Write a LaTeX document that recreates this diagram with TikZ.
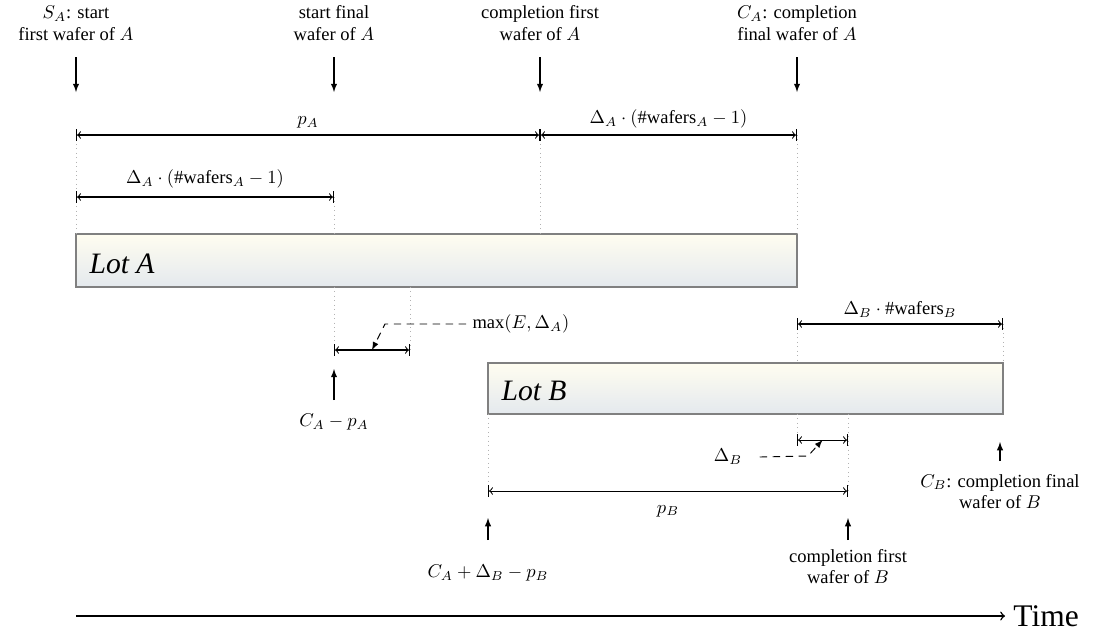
\documentclass[tikz,border=0pt]{standalone}
\usepackage{amsmath}
\usepackage{fontspec}
\setmainfont{Liberation Serif}
\usetikzlibrary{positioning}

\definecolor{lottop}{HTML}{FFFDF0}
\definecolor{lotbottom}{HTML}{E4E9EE}

\tikzset{
  lot/.style={draw=gray, line width=1.2pt, top color=lottop, bottom color=lotbottom},
  lotname/.style={font=\fontsize{16}{18}\selectfont\itshape, anchor=west},
  guide/.style={gray!60, dotted},
  span/.style={|<->|, line width=0.55pt},
  pointer/.style={-latex, line width=0.55pt},
  callout/.style={dash pattern=on 4pt off 3pt, -latex, line width=0.5pt},
}

\begin{document}
\begin{tikzpicture}[x=0.54pt, y=-0.54pt, font=\fontsize{10}{11.5}\selectfont, node distance=4pt]
    \useasboundingbox (0,0) rectangle (1093,634);

    % rows
    \coordinate (rowTail) at (0,57);
    \coordinate (rowTip)  at (0,92);
    \coordinate (rowP)    at (0,135);
    \coordinate (rowD)    at (0,197);
    \coordinate (rowW)    at (0,324);
    \coordinate (rowE)    at (0,350);
    \coordinate (rowDB)   at (0,440);
    \coordinate (rowPB)   at (0,491);

    % time points
    \coordinate (sA)  at (76,0);
    \coordinate (sfA) at (334,0);
    \coordinate (eA)  at (410,0);
    \coordinate (sB)  at (488,0);
    \coordinate (cfA) at (540,0);
    \coordinate (cA)  at (797,0);
    \coordinate (cfB) at (848,0);
    \coordinate (cB)  at (1003,0);

    % lots
    \path[lot] (76,234) coordinate (lotAnw) rectangle (797,287) coordinate (lotAse);
    \node[lotname] (lotA) at (83,264) {Lot A};
    \path[lot] (488,363) coordinate (lotBnw) rectangle (1003,414) coordinate (lotBse);
    \node[lotname] (lotB) at (495,391) {Lot B};

    % events of lot A
    \foreach \p/\txt in {sA/{$S_A$: start\\first wafer of $A$},
                         sfA/{start final\\wafer of $A$},
                         cfA/{completion first\\wafer of $A$},
                         cA/{$C_A$: completion\\final wafer of $A$}} {
        \node[above=5.5pt of \p |- rowTail, align=center] (\p lbl) {\txt};
        \draw[pointer] (\p |- rowTail) -- (\p |- rowTip);
    }

    % guides
    \draw[guide] (sA |- rowP) -- (sA |- lotAnw);
    \draw[guide] (sfA |- rowD) -- (sfA |- lotAnw);
    \draw[guide] (cfA |- rowP) -- (cfA |- lotAnw);
    \draw[guide] (cA |- rowP) -- (cA |- lotAnw);
    \draw[guide] (sfA |- lotAse) -- (sfA |- rowE);
    \draw[guide] (eA |- lotAse) -- (eA |- rowE);
    \draw[guide] (cA |- rowW) -- (cA |- lotBnw);
    \draw[guide] (cB |- rowW) -- (cB |- lotBnw);
    \draw[guide] (cA |- lotBse) -- (cA |- rowDB);
    \draw[guide] (sB |- lotBse) -- (sB |- rowPB);
    \draw[guide] (cfB |- lotBse) -- (cfB |- rowPB);

    % spans
    \draw[span] (sA |- rowP) -- node[above] (pA) {$p_A$} (cfA |- rowP);
    \draw[span] (cfA |- rowP) -- node[above] (tailA) {$\Delta_A\cdot(\#\text{wafers}_A-1)$} (cA |- rowP);
    \draw[span] (sA |- rowD) -- node[above=1pt] (headA) {$\Delta_A\cdot(\#\text{wafers}_A-1)$} (sfA |- rowD);
    \draw[span] (sfA |- rowE) -- coordinate[midway] (gapmid) (eA |- rowE);
    \draw[span] (cA |- rowW) -- node[above] (wB) {$\Delta_B\cdot\#\text{wafers}_B$} (cB |- rowW);
    \draw[span] (cA |- rowDB) -- coordinate[midway] (dBmid) (cfB |- rowDB);
    \draw[span] (sB |- rowPB) -- node[below=4pt] (pB) {$p_B$} (cfB |- rowPB);

    % callouts
    \node[anchor=west] (maxlbl) at (466,324) {$\max(E,\Delta_A)$};
    \coordinate (maxbend) at (385,324);
    \draw[callout] (maxlbl.west) -- (maxbend) -- (gapmid);
    \node (dBlbl) at (728,457) {$\Delta_B$};
    \coordinate (dBbend) at (808,456);
    \draw[callout] ([xshift=6pt]dBlbl.east) -- (dBbend) -- (dBmid);

    % events below
    \coordinate (gapTail) at (334,400);
    \coordinate (gapTip)  at (334,369);
    \draw[pointer] (gapTail) -- (gapTip);
    \node[below=4pt of gapTail] (gapLbl) {$C_A-p_A$};

    \coordinate (sBTail) at (488,540);
    \coordinate (sBTip)  at (488,518);
    \draw[pointer] (sBTail) -- (sBTip);
    \node[below=10pt of sBTail] (sBLbl) {$C_A+\Delta_B-p_B$};

    \coordinate (cfBTail) at (848,540);
    \coordinate (cfBTip)  at (848,518);
    \draw[pointer] (cfBTail) -- (cfBTip);
    \node[below=1.5pt of cfBTail, align=center] (cfBLbl) {completion first\\wafer of $B$};

    \coordinate (cBTail) at (1000,461);
    \coordinate (cBTip)  at (1000,442);
    \draw[pointer] (cBTail) -- (cBTip);
    \node[below=3.5pt of cBTail, align=center] (cBLbl) {$C_B$: completion final\\wafer of $B$};

    % time axis
    \coordinate (t0) at (76,616);
    \coordinate (t1) at (1005,616);
    \draw[thick, ->] (t0) -- (t1);
    \node[right=1pt of t1, font=\fontsize{17}{20}\selectfont] (timelbl) {Time};
\end{tikzpicture}
\end{document}
